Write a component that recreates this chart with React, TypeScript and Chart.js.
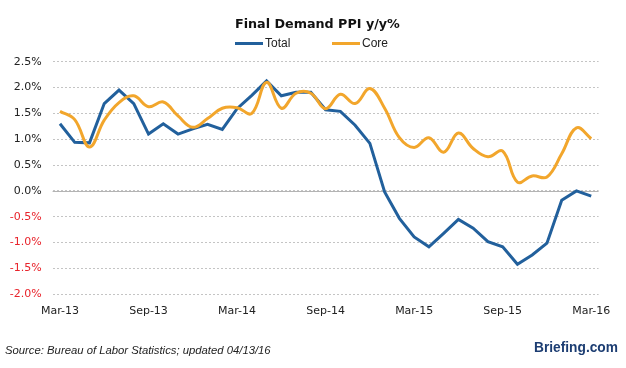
import { useEffect, useRef } from "react";
import { Chart, registerables } from "chart.js";

Chart.register(...registerables);

const months = [
  "Mar-13", "Apr-13", "May-13", "Jun-13", "Jul-13", "Aug-13", "Sep-13", "Oct-13", "Nov-13", "Dec-13",
  "Jan-14", "Feb-14", "Mar-14", "Apr-14", "May-14", "Jun-14", "Jul-14", "Aug-14", "Sep-14", "Oct-14",
  "Nov-14", "Dec-14", "Jan-15", "Feb-15", "Mar-15", "Apr-15", "May-15", "Jun-15", "Jul-15", "Aug-15",
  "Sep-15", "Oct-15", "Nov-15", "Dec-15", "Jan-16", "Feb-16", "Mar-16",
];

const totalValues = [
  1.30, 0.94, 0.93, 1.69, 1.95, 1.69, 1.10, 1.30, 1.10, 1.20,
  1.29, 1.19, 1.59, 1.85, 2.13, 1.84, 1.91, 1.91, 1.57, 1.54,
  1.27, 0.92, -0.02, -0.53, -0.89, -1.08, -0.82, -0.55, -0.72, -0.98,
  -1.08, -1.42, -1.24, -1.01, -0.18, 0.0, -0.10,
];

const coreValues = [
  1.54, 1.38, 0.85, 1.37, 1.71, 1.84, 1.63, 1.72, 1.45, 1.23,
  1.40, 1.60, 1.61, 1.50, 2.10, 1.60, 1.89, 1.89, 1.59, 1.87,
  1.69, 1.98, 1.60, 1.03, 0.84, 1.03, 0.75, 1.12, 0.82, 0.66,
  0.77, 0.17, 0.29, 0.27, 0.72, 1.22, 1.01,
];

const xTickLabels = ["Mar-13", "Sep-13", "Mar-14", "Sep-14", "Mar-15", "Sep-15", "Mar-16"];

const titleText = "Final Demand PPI y/y%";
const seriesNames = ["Total", "Core"];
const sourceText = "Source: Bureau of Labor Statistics; updated 04/13/16";
const logoText = "Briefing.com";

const BLUE = "#22609c";
const ORANGE = "#f2a62c";

function fitFont(ctx: CanvasRenderingContext2D, text: string, prefix: string, family: string, target: number) {
  ctx.font = `${prefix} 20px ${family}`;
  const w = ctx.measureText(text).width;
  const size = (20 * target) / w;
  ctx.font = `${prefix} ${size.toFixed(2)}px ${family}`;
}

const decorPlugin = {
  id: "decor",
  beforeDatasetsDraw(chart: any) {
    const { ctx, chartArea, scales } = chart;
    const y0 = scales.y.getPixelForValue(0);
    ctx.save();
    ctx.strokeStyle = "#b4b4b4";
    ctx.lineWidth = 1;
    ctx.beginPath();
    ctx.moveTo(chartArea.left, Math.round(y0) + 0.5);
    ctx.lineTo(chartArea.right, Math.round(y0) + 0.5);
    ctx.stroke();
    ctx.restore();
  },
  afterDraw(chart: any) {
    const ctx: CanvasRenderingContext2D = chart.ctx;
    ctx.save();
    // Title
    ctx.fillStyle = "#111";
    ctx.textBaseline = "middle";
    ctx.textAlign = "left";
    fitFont(ctx, titleText, "bold", "'DejaVu Sans'", 165);
    ctx.fillText(titleText, 235, 25);

    // Legend
    const items = [
      { name: seriesNames[0], color: BLUE, x: 235 },
      { name: seriesNames[1], color: ORANGE, x: 332 },
    ];
    ctx.font = "12px 'Liberation Sans'";
    items.forEach((it) => {
      ctx.fillStyle = it.color;
      ctx.fillRect(it.x, 42, 28, 3);
      ctx.fillStyle = "#222";
      ctx.fillText(it.name, it.x + 30, 43.5);
    });

    // Source
    ctx.fillStyle = "#222";
    fitFont(ctx, sourceText, "italic", "'Liberation Sans'", 266);
    ctx.fillText(sourceText, 5, 351);

    // Logo
    ctx.fillStyle = "#1c3d72";
    fitFont(ctx, logoText, "bold", "'Liberation Sans'", 84);
    ctx.fillText(logoText, 534, 348);
    ctx.restore();
  },
};

export default function App() {
  const ref = useRef<HTMLCanvasElement | null>(null);

  useEffect(() => {
    if (!ref.current) return;
    const chart = new Chart(ref.current, {
      type: "line",
      data: {
        labels: months,
        datasets: [
          {
            label: seriesNames[0],
            data: totalValues,
            borderColor: BLUE,
            backgroundColor: BLUE,
            borderWidth: 3,
            pointRadius: 0,
            tension: 0,
            order: 1,
          },
          {
            label: seriesNames[1],
            data: coreValues,
            borderColor: ORANGE,
            backgroundColor: ORANGE,
            borderWidth: 3,
            pointRadius: 0,
            tension: 0.4,
            order: 0,
          },
        ],
      },
      options: {
        responsive: false,
        animation: false,
        layout: { padding: { left: 0, right: 27.4, top: 61.7, bottom: 43.7 } },
        plugins: {
          legend: { display: false },
          title: { display: false },
          tooltip: { enabled: false },
        },
        scales: {
          x: {
            type: "category",
            offset: true,
            afterFit: (s: any) => { s.height = 30; },
            grid: { display: false, drawTicks: false },
            border: { display: false },
            ticks: {
              autoSkip: false,
              maxRotation: 0,
              minRotation: 0,
              padding: 10,
              color: "#222",
              font: { family: "'DejaVu Sans'", size: 11 },
              callback: (_v: any, i: number) => (xTickLabels.includes(months[i]) ? months[i] : ""),
            },
          },
          y: {
            min: -2,
            max: 2.5,
            afterFit: (s: any) => { s.width = 52.6; },
            grid: { color: "#c4c4c4", lineWidth: 1, drawTicks: false },
            border: { display: false, dash: [2, 2] },
            ticks: {
              stepSize: 0.5,
              padding: 11,
              font: { family: "'DejaVu Sans'", size: 11 },
              color: (c: any) => (c.tick && c.tick.value < 0 ? "#e8232b" : "#222"),
              callback: (v: any) => Number(v).toFixed(1) + "%",
            },
          },
        },
      },
      plugins: [decorPlugin],
    });
    return () => chart.destroy();
  }, []);

  return (
    <div style={{ position: "absolute", left: 0, top: 0, width: 626, height: 368, background: "#fff" }}>
      <canvas ref={ref} width={626} height={368} style={{ display: "block" }} />
    </div>
  );
}
